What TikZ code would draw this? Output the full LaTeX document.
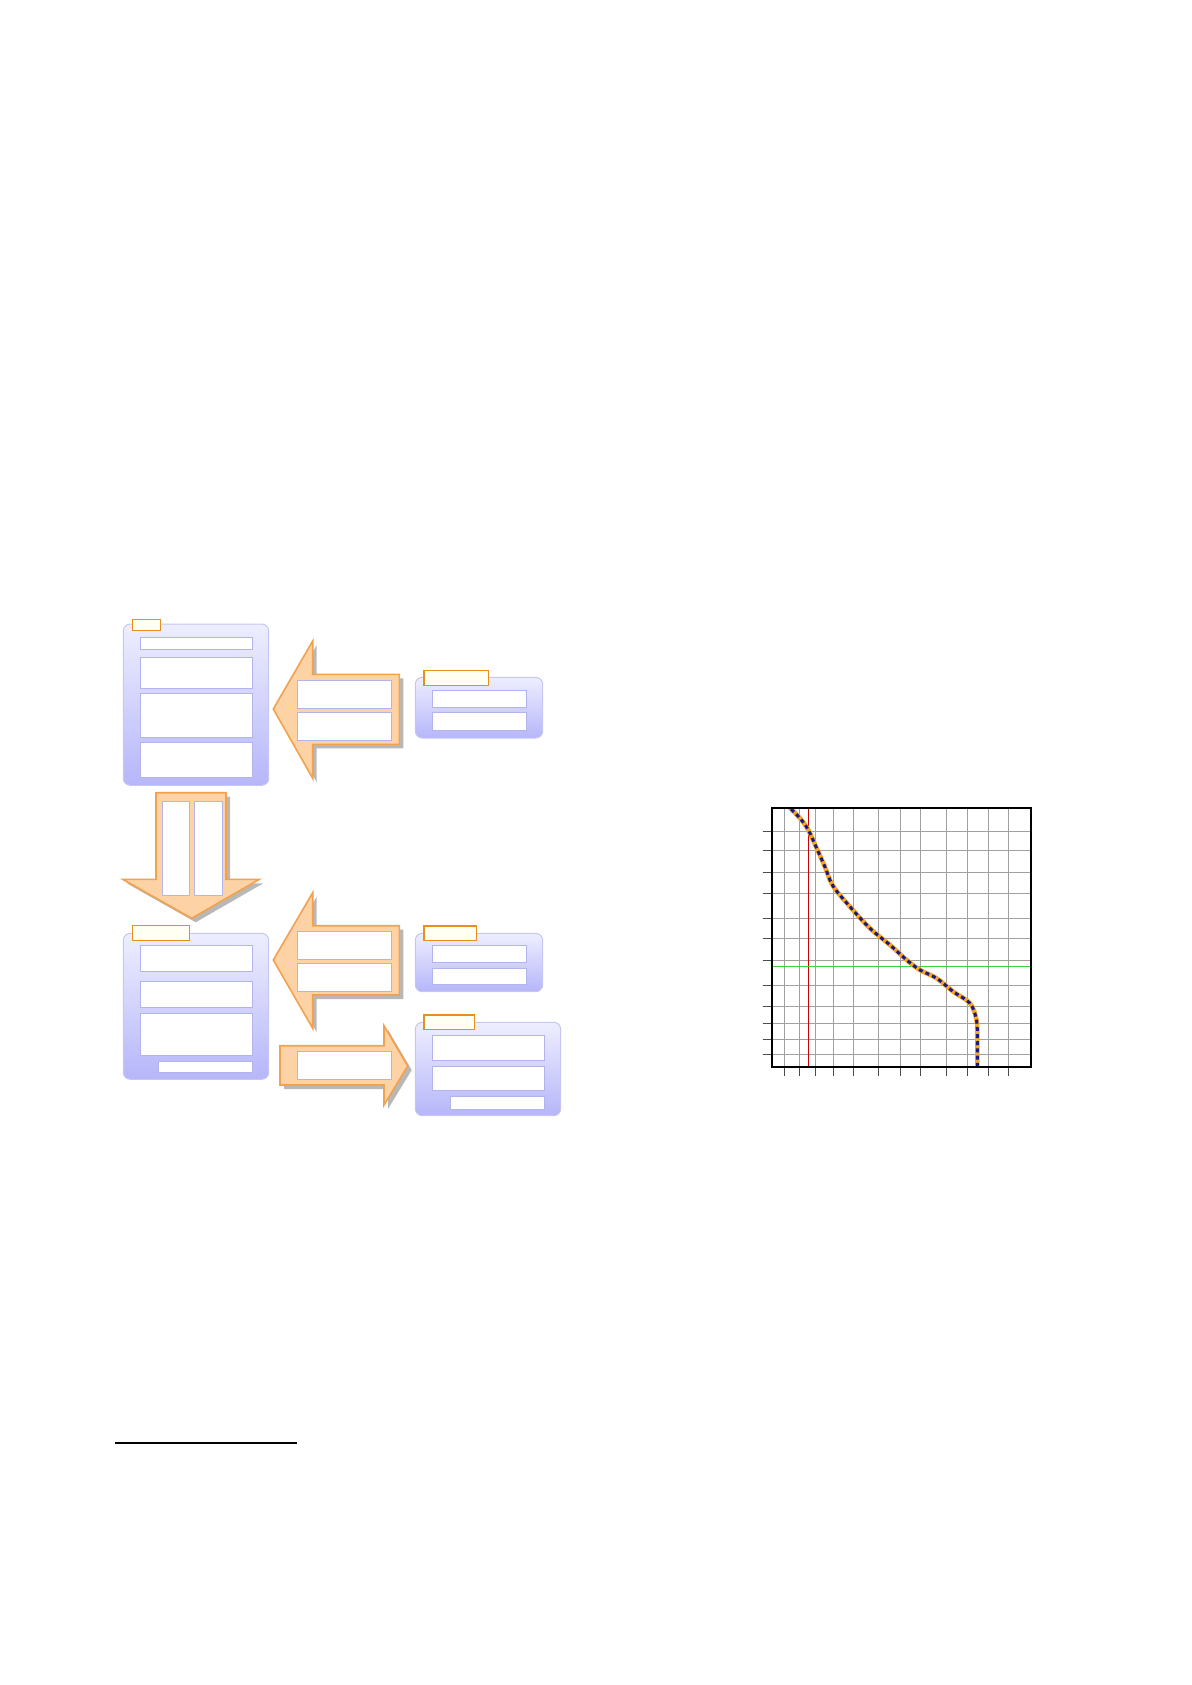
\documentclass[tikz,border=0pt]{standalone}
\usetikzlibrary{positioning}

\definecolor{panelTop}{HTML}{EEEEFF}
\definecolor{panelBot}{HTML}{B6B6FA}
\definecolor{panelLine}{HTML}{C6C6F4}
\definecolor{slotLine}{HTML}{B4B4EC}
\definecolor{tabLine}{HTML}{E8901E}
\definecolor{tabFill}{HTML}{FFFFF2}
\definecolor{arrowFill}{HTML}{FDD3A6}
\definecolor{arrowLine}{HTML}{F2A24E}
\definecolor{gridGrey}{HTML}{A0A0A0}
\definecolor{curveOrange}{HTML}{F5A623}
\definecolor{curveBlue}{HTML}{1A1A80}
\definecolor{markGreen}{HTML}{3CD23C}

\tikzset{
  panel/.style={draw=panelLine, rounded corners=3.5pt, top color=panelTop, bottom color=panelBot, inner sep=0pt, line width=0.5pt},
  slot/.style={draw=slotLine, fill=white, inner sep=0pt, line width=0.5pt},
  tab/.style={draw=tabLine, fill=tabFill, inner sep=0pt, line width=0.6pt},
  bigarrow/.style={draw=arrowLine, fill=arrowFill, line width=0.8pt, line join=miter},
  arrowshade/.style={fill=black!28, shift={(4,4)}},
  gridline/.style={draw=gridGrey, line width=0.5pt},
  curvebase/.style={draw=curveOrange, line width=2.3pt},
  curvedash/.style={draw=curveBlue, line width=1.5pt, dash pattern=on 2pt off 1.6pt},
}

% block from two corners (pixel units)
\newcommand{\blk}[6]{\node[#2, minimum width={(#5-#3)*0.5pt}, minimum height={(#6-#4)*0.5pt}] (#1) at ({(#3+#5)/2},{(#4+#6)/2}) {};}

\begin{document}
\begin{tikzpicture}[x=0.5pt, y=-0.5pt]
  \useasboundingbox (0,0) rectangle (1191,1685);

  % Arrows (shadow first)
  \foreach \s in {arrowshade, bigarrow}{
    \path[\s] (273.3,709) -- (312.7,641) -- (312.7,674.3) -- (399.3,674.3) -- (399.3,744.3) -- (312.7,744.3) -- (312.7,778.3) -- cycle;
    \path[\s] (156,792.7) -- (226,792.7) -- (226,879.3) -- (259.3,879.3) -- (191.7,918.3) -- (122.7,879.3) -- (156,879.3) -- cycle;
    \path[\s] (273.3,960) -- (312.7,892.7) -- (312.7,925.7) -- (399.3,925.7) -- (399.3,995) -- (312.7,995) -- (312.7,1028.3) -- cycle;
    \path[\s] (280,1045.7) -- (384,1045.7) -- (384,1025.7) -- (407.7,1066) -- (384,1105) -- (384,1085) -- (280,1085) -- cycle;
  }

  % Panels
  \blk{inA}{panel}{123.3}{624}{268.7}{785.3}
  \blk{inB}{panel}{415.3}{677.3}{542.7}{738}
  \blk{outA}{panel}{123.3}{933.3}{268.7}{1079.3}
  \blk{inC}{panel}{415.3}{933.3}{542.7}{991.7}
  \blk{outB}{panel}{415.3}{1022.3}{560.7}{1115.7}

  % Tabs
  \blk{inAtab}{tab}{132.3}{619.3}{160.7}{630.7}
  \blk{inBtab}{tab}{424}{670.3}{488.7}{685.3}
  \blk{outAtab}{tab}{132.3}{925.3}{189.3}{940.3}
  \blk{inCtab}{tab}{424}{926}{476.7}{940.3}
  \blk{outBtab}{tab}{424}{1015}{474.3}{1029.3}

  % Slots in panels
  \blk{inA1}{slot}{140.3}{637.3}{252.3}{649.3}
  \blk{inA2}{slot}{140.3}{657.7}{252.3}{688.3}
  \blk{inA3}{slot}{140.3}{693.7}{252.3}{737}
  \blk{inA4}{slot}{140.3}{742.7}{252.3}{777.7}
  \blk{inB1}{slot}{432.7}{690.3}{526.3}{707}
  \blk{inB2}{slot}{432.7}{712}{526.3}{730.7}
  \blk{outA1}{slot}{140.3}{945.7}{252.3}{971.3}
  \blk{outA2}{slot}{140.3}{981.7}{252.3}{1007.3}
  \blk{outA3}{slot}{140.3}{1013.7}{252.3}{1055}
  \blk{outA4}{slot}{158.7}{1061}{252}{1072.7}
  \blk{inC1}{slot}{432.7}{945.7}{526.3}{962}
  \blk{inC2}{slot}{432.7}{968.7}{526.3}{984.7}
  \blk{outB1}{slot}{432.7}{1035.3}{544.3}{1060}
  \blk{outB2}{slot}{432.7}{1066.7}{544.3}{1090.7}
  \blk{outB3}{slot}{450.7}{1096.7}{544}{1109}

  % Slots in arrows
  \blk{arA1}{slot}{297.3}{680.3}{391.7}{708.3}
  \blk{arA2}{slot}{297.3}{712.3}{391.7}{740}
  \blk{arD1}{slot}{162.3}{801}{189.3}{895}
  \blk{arD2}{slot}{194.3}{801}{222.7}{895}
  \blk{arB1}{slot}{297.3}{931.7}{391.7}{959.3}
  \blk{arB2}{slot}{297.3}{963.7}{391.7}{991}
  \blk{arC1}{slot}{297.3}{1051.3}{391.7}{1079}

  % Chart
  \coordinate (plotNW) at (771.7,808.3);
  \coordinate (plotSE) at (1030.7,1067);
  \foreach \x in {784.7,799.3,815.3,833.3,853.7,878.3,900.3,920.7,946.3,967.7,988.7,1008.7}{
    \draw[gridline] (\x,808.3) -- (\x,1067);
    \draw[black!70, line width=0.5pt] (\x,1067) -- (\x,1075.7);
  }
  \foreach \y in {831,850.3,872.3,893,918.3,938.3,960.7,985.3,1006,1023.3,1039,1054.3}{
    \draw[gridline] (771.7,\y) -- (1030.7,\y);
    \draw[black!70, line width=0.5pt] (762.7,\y) -- (771.7,\y);
  }
  \draw[red!80!black, line width=0.6pt] (808.3,808.3) -- (808.3,1067);
  \draw[markGreen, line width=0.7pt] (771.7,966.3) -- (1030.7,966.3);
  \begin{scope}
    \clip (plotNW) rectangle (plotSE);
    \foreach \s in {curvebase, curvedash}{
      \draw[\s] plot[smooth, tension=0.55] coordinates {(786,804) (800,818.3) (808.3,830) (817,849) (825,867) (833,886) (850,906.7) (870,928.3) (890,945) (906.7,960) (920,970) (936.7,978.3) (953.3,991.7) (970,1003.3) (976.5,1020) (977.3,1040) (977.3,1072)};
    }
  \end{scope}
  \draw[black, line width=1pt] (plotNW) rectangle (plotSE);

  % Footnote rule
  \coordinate (ruleL) at (115,1442.7);
  \coordinate (ruleR) at (296.7,1442.7);
  \draw[line width=0.9pt] (ruleL) -- (ruleR);
\end{tikzpicture}
\end{document}
